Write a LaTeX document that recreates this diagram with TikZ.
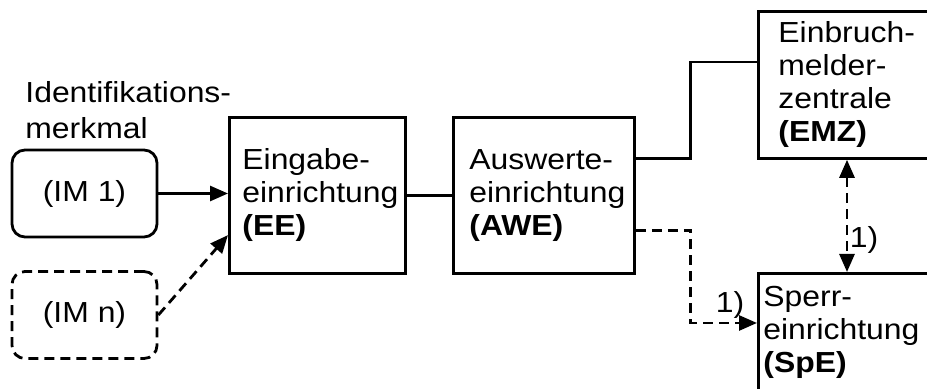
\documentclass[tikz,border=0pt]{standalone}
\usepackage{fontspec}
\setmainfont{Liberation Sans}[FakeStretch=1.1]
\usetikzlibrary{arrows.meta,calc}

\begin{document}
\begin{tikzpicture}[x = 0.5pt, y = -0.5pt, line width = 1.4pt,
                        every node/.style = {font = \fontsize{14.5}{16.5}\selectfont},
                        box/.style = {draw, rectangle, anchor = north west, align = left},
                        idbox/.style = {draw, rectangle, rounded corners = 6.5pt, minimum width = 72.5pt, minimum height = 43.5pt},
                        dashes/.style = {dash pattern = on 5pt off 3pt},
                        tip/.style = {-{Triangle[length = 9pt, width = 7.5pt]}},
                        tips/.style = {{Triangle[length = 9pt, width = 7.5pt]}-{Triangle[length = 9pt, width = 7.5pt]}}]
      \useasboundingbox (0, 0) rectangle (927, 389);
      % identification features
      \node [anchor = north west, align = left, font = \fontsize{14.5}{18}\selectfont, inner sep = 0pt] (idlabel) at (24, 80) {Identifikations-\\merkmal};
      \node [idbox] (im1) at (84.5, 193.5) {(IM 1)};
      \node [idbox, dashes] (imn) at (84.5, 315) {(IM n)};
      % processing chain
      \node [box, minimum width = 88pt, minimum height = 78pt, text width = 75pt, inner xsep = 6.5pt] (ee) at (228, 116) {Eingabe-\\einrichtung\\\textbf{(EE)}};
      \node [box, minimum width = 90.5pt, minimum height = 78pt, text width = 74.5pt, inner xsep = 8pt] (awe) at (452, 116) {Auswerte-\\einrichtung\\\textbf{(AWE)}};
      \node [box, minimum width = 120pt, minimum height = 73.5pt, text width = 100pt, inner xsep = 10pt] (emz) at (757, 10) {Einbruch-\\melder-\\zentrale\\\textbf{(EMZ)}};
      \node [box, minimum width = 120pt, text width = 115pt, inner xsep = 2.5pt, inner ysep = 6.5pt, text depth = 80pt] (spe) at (757, 272) {Sperr-\\einrichtung\\\textbf{(SpE)}};
      \coordinate (eein) at ($(ee.south west)!0.25!(ee.north west)$);
      \coordinate (aweup) at ($(awe.north east)!0.27!(awe.south east)$);
      \coordinate (awedown) at ($(awe.south east)!0.28!(awe.north east)$);
      \coordinate (emzin) at ($(emz.north west) + (0, 52)$);
      \coordinate (spein) at ($(spe.north west) + (0, 51)$);
      \draw [tip] (im1.east) -- (ee.west |- im1.east);
      \draw [tip, dashes] (imn.east) -- (eein);
      \draw (ee.east) -- (awe.west);
      \draw (aweup) -- ++(55, 0) |- (emzin);
      \draw [tip, dashes] (awedown) -- ++(55, 0) |- (spein);
      \draw [tips, dashes] ($(emz.south west) + (90, 0)$) -- ($(spe.north west) + (90, 0)$);
      \node (noteb) at (864, 240) {1)};
      \node (notea) at (730, 305) {1)};
    \end{tikzpicture}
\end{document}
